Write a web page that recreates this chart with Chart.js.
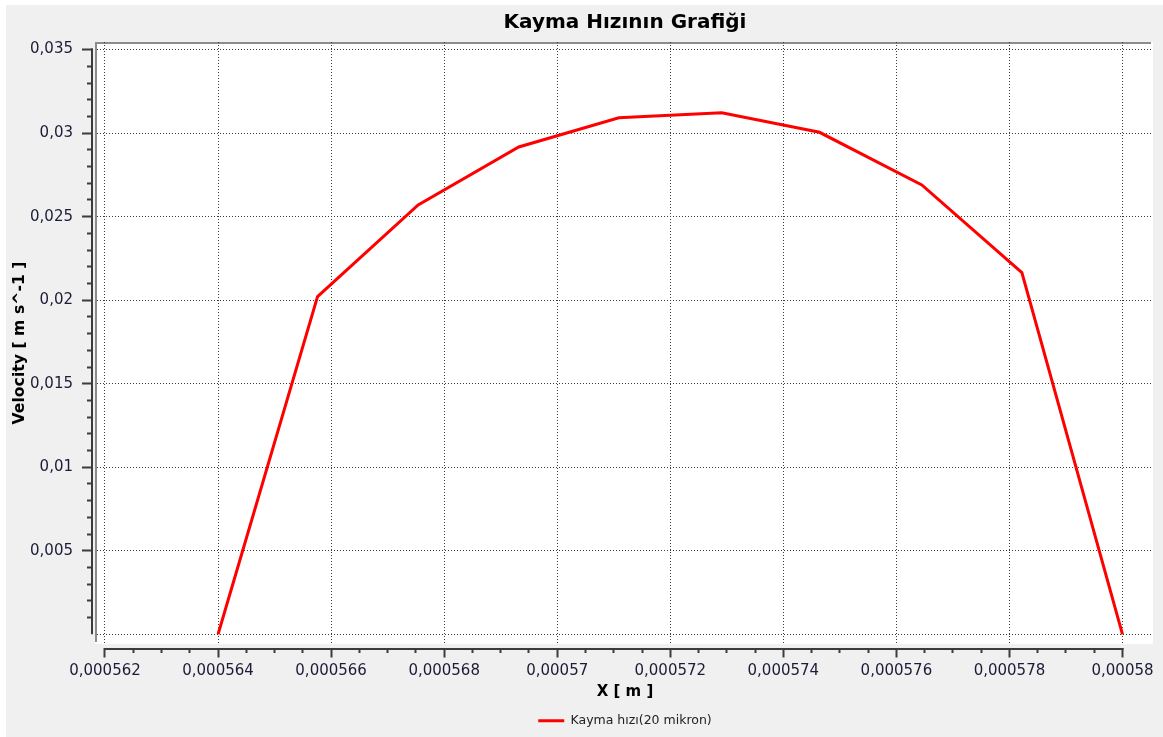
<!DOCTYPE html>
<html>
<head>
<meta charset="utf-8">
<title>Kayma Hızının Grafiği</title>
<script src="https://cdn.jsdelivr.net/npm/chart.js@4/dist/chart.umd.min.js"></script>
<style>
    html, body {
        margin: 0;
        padding: 0;
        background: #ffffff;
    }
    #chart_wrap {
        width: 1163px;
        height: 737px;
    }
</style>
</head>
<body>
<div id="chart_wrap"><canvas id="shear_chart" width="1163" height="737"></canvas></div>
<script>
// values
var arrPosX = [0.000564, 0.00056576, 0.00056754, 0.00056932, 0.00057109, 0.00057291, 0.00057464, 0.00057645, 0.00057822, 0.00058];
var arrVelocity = [0, 0.02021, 0.0257, 0.02917, 0.03092, 0.03122, 0.03005, 0.0269, 0.02165, 0];

var arrXTicks = [0.000562, 0.000564, 0.000566, 0.000568, 0.00057, 0.000572, 0.000574, 0.000576, 0.000578, 0.00058];
var arrXTickLabels = ['0,000562', '0,000564', '0,000566', '0,000568', '0,00057', '0,000572', '0,000574', '0,000576', '0,000578', '0,00058'];
var arrYTicks = [0, 0.005, 0.01, 0.015, 0.02, 0.025, 0.03, 0.035];
var arrYTickLabels = ['', '0,005', '0,01', '0,015', '0,02', '0,025', '0,03', '0,035'];

var strTitle = 'Kayma Hızının Grafiği';
var strXTitle = 'X [ m ]';
var strYTitle = 'Velocity [ m s^-1 ]';
var strSeries = 'Kayma hızı(20 mikron)';

// axis ranges (plot box is a bit wider than the tick range)
var numXMin = 0.0005618585;
var numXMax = 0.0005805396;
var numYMin = -0.000581;
var numYMax = 0.035455;

var strFont = "'DejaVu Sans', Verdana, sans-serif";
var strTickColor = '#1c1c38';
var strAxisColor = '#3c3c3c';

Chart.defaults.font.family = strFont;

// minor ticks: split every major step in n parts
function buildMinorTicks(arrMajor, intParts) {
    const arrMinor = [];
    for (let i = 0; i < arrMajor.length - 1; i++) {
        for (let j = 1; j < intParts; j++) {
            arrMinor.push({value: arrMajor[i] + (arrMajor[i + 1] - arrMajor[i]) * j / intParts});
        }
    }
    return arrMinor;
}

var objPanelPlugin = {
    id: 'panel',
    beforeDraw: function (chart) {
        const ctx = chart.ctx;
        const area = chart.chartArea;
        ctx.save();
        ctx.fillStyle = '#ffffff';
        ctx.fillRect(0, 0, chart.width, chart.height);
        ctx.fillStyle = '#f0f0f0';
        ctx.fillRect(6, 5, chart.width - 6, chart.height - 5);
        ctx.fillStyle = '#ffffff';
        ctx.fillRect(area.left - 2, area.top, area.right - area.left + 2, area.bottom - area.top);
        // grey frame, top and left only
        ctx.fillStyle = '#8c8c8c';
        ctx.fillRect(area.left - 2, area.top, area.right - area.left, 2);
        ctx.fillRect(area.left - 2, area.top, 2, area.bottom - area.top - 2);
        ctx.restore();
    },
    afterDraw: function (chart) {
        const ctx = chart.ctx;
        const objX = chart.scales.x;
        const objY = chart.scales.y;
        ctx.save();
        ctx.strokeStyle = strAxisColor;
        ctx.lineWidth = 2;
        ctx.beginPath();
        // y axis line only spans the tick range
        ctx.moveTo(objY.right - 1, objY.getPixelForValue(arrYTicks[arrYTicks.length - 1]) - 1);
        ctx.lineTo(objY.right - 1, objY.getPixelForValue(arrYTicks[0]));
        // same for x
        ctx.moveTo(objX.getPixelForValue(arrXTicks[0]) - 1, objX.top + 1);
        ctx.lineTo(objX.getPixelForValue(arrXTicks[arrXTicks.length - 1]) + 1, objX.top + 1);
        ctx.stroke();
        ctx.restore();
    }
};

var ctx = document.getElementById('shear_chart').getContext('2d');
var objChart = new Chart(ctx, {
    type: 'line',
    data: {
        datasets: [{
            label: strSeries,
            data: arrPosX.map((x, i) => ({x: x, y: arrVelocity[i]})),
            xAxisID: 'x',
            yAxisID: 'y',
            borderColor: '#ff0000',
            backgroundColor: '#ff0000',
            borderWidth: 3,
            pointRadius: 0,
            tension: 0,
            fill: false
        }]
    },
    plugins: [objPanelPlugin],
    options: {
        responsive: false,
        animation: false,
        devicePixelRatio: 1,
        layout: {
            padding: {top: 0, left: 0, right: 10, bottom: 0}
        },
        plugins: {
            title: {
                display: true,
                text: strTitle,
                fullSize: false,
                color: '#000000',
                font: {size: 20, weight: 'bold'},
                padding: {top: 11, bottom: 7}
            },
            legend: {
                display: true,
                position: 'bottom',
                fullSize: false,
                labels: {
                    usePointStyle: true,
                    pointStyle: 'line',
                    pointStyleWidth: 26,
                    color: '#222222',
                    font: {size: 12.5},
                    padding: 8
                }
            },
            tooltip: {enabled: false}
        },
        scales: {
            x: {
                type: 'linear',
                axis: 'x',
                position: 'bottom',
                weight: 2,
                min: numXMin,
                max: numXMax,
                afterBuildTicks: function (scale) {
                    scale.ticks = arrXTicks.map(v => ({value: v}));
                },
                afterFit: function (scale) {
                    scale.height = 58.5;
                },
                ticks: {
                    autoSkip: false,
                    maxRotation: 0,
                    padding: 4.5,
                    color: strTickColor,
                    font: {size: 15},
                    callback: function (value, index) {
                        return arrXTickLabels[index];
                    }
                },
                grid: {
                    color: '#3a3a3a',
                    lineWidth: 1,
                    tickLength: 9.5,
                    tickColor: strAxisColor,
                    tickWidth: 2
                },
                border: {display: false, dash: [1, 2]},
                title: {
                    display: true,
                    text: strXTitle,
                    color: '#000000',
                    font: {size: 15, weight: 'bold'},
                    padding: {top: 0, bottom: 5.5}
                }
            },
            xMinor: {
                type: 'linear',
                axis: 'x',
                position: 'bottom',
                weight: 1,
                min: numXMin,
                max: numXMax,
                afterBuildTicks: function (scale) {
                    scale.ticks = buildMinorTicks(arrXTicks, 4);
                },
                afterFit: function (scale) {
                    scale.height = 0;
                },
                ticks: {display: false},
                grid: {
                    drawOnChartArea: false,
                    tickLength: 5,
                    tickColor: strAxisColor,
                    tickWidth: 2
                },
                border: {display: false}
            },
            xGap: {
                type: 'linear',
                axis: 'x',
                position: 'bottom',
                weight: 0,
                afterFit: function (scale) {
                    scale.height = 4;
                },
                ticks: {display: false},
                grid: {display: false},
                border: {display: false}
            },
            y: {
                type: 'linear',
                axis: 'y',
                position: 'left',
                weight: 2,
                min: numYMin,
                max: numYMax,
                afterBuildTicks: function (scale) {
                    scale.ticks = arrYTicks.map(v => ({value: v}));
                },
                afterFit: function (scale) {
                    scale.width = 93;
                },
                ticks: {
                    autoSkip: false,
                    padding: 9,
                    color: strTickColor,
                    font: {size: 15},
                    callback: function (value, index) {
                        return arrYTickLabels[index];
                    }
                },
                grid: {
                    color: '#3a3a3a',
                    lineWidth: 1,
                    tickLength: 11,
                    tickColor: function (c) {
                        // no tick mark at zero
                        return c.tick && c.tick.value === 0 ? 'rgba(0,0,0,0)' : strAxisColor;
                    },
                    tickWidth: 2
                },
                border: {display: false, dash: [1, 2]},
                title: {
                    display: true,
                    text: strYTitle,
                    color: '#000000',
                    font: {size: 15.7, weight: 'bold'},
                    padding: {top: 11, bottom: 0}
                }
            },
            yMinor: {
                type: 'linear',
                axis: 'y',
                position: 'left',
                weight: 1,
                min: numYMin,
                max: numYMax,
                afterBuildTicks: function (scale) {
                    scale.ticks = buildMinorTicks(arrYTicks, 5);
                },
                afterFit: function (scale) {
                    scale.width = 0;
                },
                ticks: {display: false},
                grid: {
                    drawOnChartArea: false,
                    tickLength: 6,
                    tickColor: strAxisColor,
                    tickWidth: 2
                },
                border: {display: false}
            },
            yGap: {
                type: 'linear',
                axis: 'y',
                position: 'left',
                weight: 0,
                afterFit: function (scale) {
                    scale.width = 4;
                },
                ticks: {display: false},
                grid: {display: false},
                border: {display: false}
            }
        }
    }
});
</script>
</body>
</html>
